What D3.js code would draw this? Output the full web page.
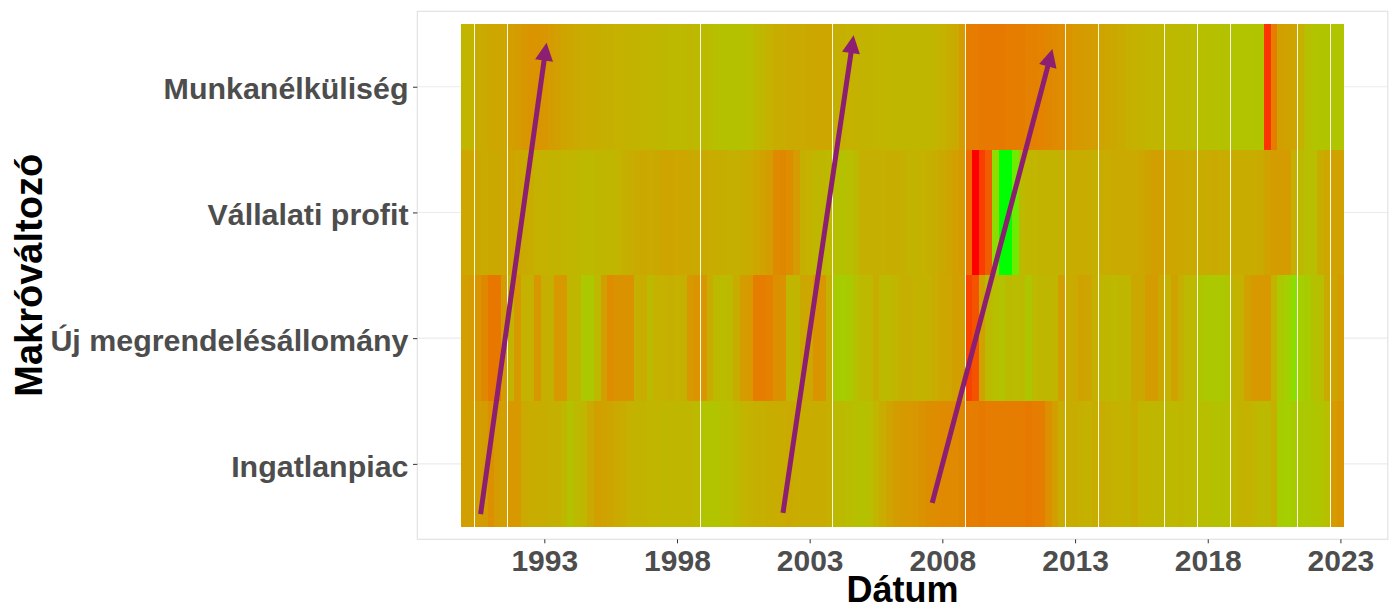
<!DOCTYPE html>
<html>
<head>
<meta charset="utf-8">
<script src="https://cdn.jsdelivr.net/npm/d3@7"></script>
<style>
  body { margin: 0; background: #fff; }
  text { font-family: "Liberation Sans", Arial, sans-serif; font-weight: bold; }
</style>
</head>
<body>
<div id="chart"></div>
<script>
// categories, bottom to top
const categories = ["Ingatlanpiac", "Új megrendelésállomány", "Vállalati profit", "Munkanélküliség"];

// quarterly observations 1990 Q1 .. 2023 Q1 (0 = red, 1 = green)
const firstQuarter = "1990-01-01";
const lastQuarter = "2023-01-01";

const ingatlanpiac = [
  0.44, 0.44, 0.43, 0.42, 0.36, 0.42, 0.44, 0.40, 0.40, 0.49, 0.50, 0.50, 0.51, 0.52, 0.52, 0.56, 0.62,
  0.57, 0.56, 0.49, 0.44, 0.45, 0.46, 0.49, 0.50, 0.53, 0.54, 0.54, 0.55, 0.55, 0.56, 0.56, 0.56, 0.56,
  0.56, 0.57, 0.63, 0.64, 0.63, 0.61, 0.60, 0.58, 0.55, 0.53, 0.52, 0.52, 0.51, 0.50, 0.50, 0.49, 0.50,
  0.50, 0.51, 0.50, 0.50, 0.52, 0.58, 0.58, 0.59, 0.61, 0.62, 0.60, 0.55, 0.50, 0.46, 0.42, 0.41,
  0.40, 0.39, 0.37, 0.35, 0.34, 0.33, 0.33, 0.33, 0.32, 0.27, 0.28, 0.26, 0.27, 0.28, 0.27, 0.28,
  0.27, 0.27, 0.26, 0.27, 0.28, 0.36, 0.43, 0.50, 0.51, 0.50, 0.52, 0.53, 0.51, 0.50, 0.52, 0.53, 0.53,
  0.54, 0.50, 0.55, 0.56, 0.56, 0.56, 0.57, 0.57, 0.56, 0.57, 0.58, 0.60, 0.60, 0.62, 0.62, 0.61,
  0.55, 0.54, 0.53, 0.55, 0.58, 0.58, 0.52, 0.69, 0.70, 0.68, 0.66, 0.66, 0.65, 0.64, 0.60, 0.42, 0.38
];
const ujMegrendeles = [
  0.43, 0.42, 0.38, 0.32, 0.25, 0.25, 0.42, 0.54, 0.40, 0.53, 0.53, 0.39, 0.52, 0.52, 0.40, 0.40, 0.56,
  0.56, 0.66, 0.66, 0.57, 0.44, 0.34, 0.37, 0.37, 0.37, 0.52, 0.50, 0.58, 0.53, 0.53, 0.52, 0.53, 0.52,
  0.40, 0.38, 0.39, 0.50, 0.58, 0.59, 0.57, 0.50, 0.42, 0.40, 0.28, 0.27, 0.29, 0.36, 0.37, 0.56, 0.55,
  0.48, 0.47, 0.38, 0.39, 0.52, 0.68, 0.69, 0.67, 0.61, 0.57, 0.57, 0.50, 0.58, 0.57, 0.55, 0.52,
  0.52, 0.53, 0.54, 0.53, 0.50, 0.47, 0.47, 0.44, 0.44, 0.08, 0.12, 0.45, 0.58, 0.60, 0.63, 0.58,
  0.59, 0.58, 0.65, 0.57, 0.56, 0.56, 0.55, 0.44, 0.50, 0.49, 0.45, 0.46, 0.52, 0.56, 0.56, 0.57, 0.56,
  0.56, 0.48, 0.48, 0.42, 0.42, 0.48, 0.53, 0.45, 0.52, 0.57, 0.57, 0.65, 0.66, 0.66, 0.66, 0.65,
  0.54, 0.53, 0.45, 0.40, 0.40, 0.40, 0.54, 0.66, 0.70, 0.80, 0.70, 0.68, 0.62, 0.60, 0.49, 0.46, 0.42
];
const vallalatiProfit = [
  0.47, 0.47, 0.48, 0.49, 0.48, 0.48, 0.47, 0.46, 0.47, 0.49, 0.50, 0.53, 0.53, 0.54, 0.54, 0.55, 0.55,
  0.56, 0.57, 0.57, 0.56, 0.56, 0.56, 0.55, 0.52, 0.51, 0.49, 0.48, 0.49, 0.48, 0.46, 0.46, 0.47, 0.47,
  0.48, 0.49, 0.49, 0.50, 0.50, 0.51, 0.52, 0.52, 0.51, 0.50, 0.47, 0.45, 0.42, 0.33, 0.32, 0.34, 0.42,
  0.52, 0.53, 0.56, 0.56, 0.57, 0.61, 0.62, 0.60, 0.58, 0.52, 0.52, 0.52, 0.52, 0.51, 0.51, 0.52,
  0.54, 0.54, 0.53, 0.52, 0.51, 0.48, 0.46, 0.43, 0.41, 0.20, 0.00, 0.07, 0.15, 0.78, 1.00, 1.00,
  0.88, 0.57, 0.55, 0.55, 0.54, 0.54, 0.54, 0.53, 0.51, 0.51, 0.50, 0.51, 0.52, 0.50, 0.50, 0.49, 0.49,
  0.49, 0.49, 0.47, 0.45, 0.44, 0.44, 0.47, 0.47, 0.48, 0.49, 0.49, 0.50, 0.50, 0.49, 0.50, 0.50,
  0.50, 0.50, 0.50, 0.50, 0.49, 0.45, 0.42, 0.42, 0.42, 0.52, 0.58, 0.60, 0.60, 0.50, 0.47, 0.45, 0.45
];
const munkanelkuliseg = [
  0.55, 0.55, 0.50, 0.49, 0.47, 0.47, 0.47, 0.43, 0.42, 0.39, 0.38, 0.38, 0.39, 0.42, 0.44, 0.46, 0.47,
  0.49, 0.50, 0.50, 0.51, 0.52, 0.52, 0.53, 0.53, 0.54, 0.54, 0.55, 0.55, 0.56, 0.56, 0.57, 0.57, 0.57,
  0.56, 0.57, 0.58, 0.59, 0.61, 0.62, 0.62, 0.62, 0.61, 0.60, 0.57, 0.56, 0.53, 0.50, 0.50, 0.49, 0.49,
  0.49, 0.48, 0.47, 0.47, 0.47, 0.52, 0.52, 0.53, 0.53, 0.54, 0.54, 0.55, 0.55, 0.56, 0.56, 0.56,
  0.56, 0.56, 0.56, 0.56, 0.55, 0.53, 0.51, 0.49, 0.42, 0.28, 0.27, 0.26, 0.26, 0.26, 0.26, 0.27,
  0.27, 0.28, 0.29, 0.29, 0.30, 0.32, 0.33, 0.34, 0.38, 0.40, 0.41, 0.42, 0.43, 0.46, 0.47, 0.48, 0.49,
  0.52, 0.53, 0.54, 0.55, 0.55, 0.56, 0.57, 0.57, 0.58, 0.58, 0.59, 0.60, 0.61, 0.61, 0.62, 0.62,
  0.63, 0.63, 0.63, 0.63, 0.64, 0.05, 0.28, 0.44, 0.45, 0.46, 0.53, 0.60, 0.63, 0.64, 0.64, 0.64, 0.64
];
const seriesByCategory = [ingatlanpiac, ujMegrendeles, vallalatiProfit, munkanelkuliseg];

// quarters after which a white seam shows between neighbouring tiles
const seamQuarters = [
  "1990-07-01", "1991-10-01", "1999-01-01", "2004-01-01", "2009-01-01", "2012-10-01",
  "2014-01-01", "2016-07-01", "2017-10-01", "2019-01-01", "2021-07-01", "2022-10-01"
];

const tickYears = [1993, 1998, 2003, 2008, 2013, 2018, 2023];

// annotation arrows (date, category position)
const arrows = [
  { from: "1990-08-08", y0: 0.60, to: "1993-02-01", y1: 4.35 },
  { from: "2001-12-30", y0: 0.61, to: "2004-08-28", y1: 4.41 },
  { from: "2007-08-15", y0: 0.69, to: "2012-02-24", y1: 4.30 }
];

const width = 1395, height = 609;
const panel = { left: 417.3, right: 1387.8, top: 11.3, bottom: 539.3 };

const parse = d3.utcParse("%Y-%m-%d");
const quarters = d3.utcMonth.every(3).range(parse(firstQuarter), d3.utcDay.offset(parse(lastQuarter), 1));

// tile width like geom_tile: smallest spacing between dates
const tileW = d3.min(d3.pairs(quarters, (a, b) => b - a));
const x0 = +quarters[0] - tileW / 2;
const x1 = +quarters[quarters.length - 1] + tileW / 2;
const pad = (x1 - x0) * 0.05;

// tile edges: halfway between neighbouring quarters
const edges = [x0];
d3.pairs(quarters, (a, b) => edges.push((+a + +b) / 2));
edges.push(x1);

const x = d3.scaleUtc()
    .domain([new Date(x0 - pad), new Date(x1 + pad)])
    .range([panel.left, panel.right]);

const y = d3.scaleLinear()
    .domain([0.4, categories.length + 0.6])
    .range([panel.bottom, panel.top]);

const color = d3.scaleLinear()
    .domain([0, 1])
    .range(["#ff0000", "#00ff00"])
    .interpolate(d3.interpolateLab);

const cells = [];
seriesByCategory.forEach((vals, i) => {
    vals.forEach((v, k) => cells.push({ k, pos: i + 1, value: v }));
});

const svg = d3.select("#chart").append("svg")
    .attr("width", width)
    .attr("height", height)
    .style("display", "block");

svg.append("rect").attr("width", width).attr("height", height).attr("fill", "#fff");

// grid
svg.append("g")
    .selectAll("line")
    .data(d3.range(1, categories.length + 1))
    .join("line")
    .attr("x1", panel.left).attr("x2", panel.right)
    .attr("y1", d => y(d)).attr("y2", d => y(d))
    .attr("stroke", "#ebebeb")
    .attr("stroke-width", 1.1);

// tiles
svg.append("g")
    .attr("shape-rendering", "crispEdges")
    .selectAll("rect")
    .data(cells)
    .join("rect")
    .attr("x", d => x(new Date(edges[d.k])))
    .attr("width", d => x(new Date(edges[d.k + 1])) - x(new Date(edges[d.k])))
    .attr("y", d => y(d.pos + 0.5))
    .attr("height", d => y(d.pos - 0.5) - y(d.pos + 0.5))
    .attr("fill", d => color(d.value));

// seams between tiles
svg.append("g")
    .attr("shape-rendering", "crispEdges")
    .selectAll("line")
    .data(seamQuarters)
    .join("line")
    .attr("x1", d => x(new Date(edges[d3.bisectLeft(quarters, parse(d))])))
    .attr("x2", d => x(new Date(edges[d3.bisectLeft(quarters, parse(d))])))
    .attr("y1", y(categories.length + 0.5))
    .attr("y2", y(0.5))
    .attr("stroke", "#ffffff")
    .attr("stroke-opacity", 0.92)
    .attr("stroke-width", 1);

// arrows
const arrowColor = "#8c1f72";
const ag = svg.append("g");
arrows.forEach(a => {
    const sx = x(parse(a.from)), sy = y(a.y0);
    const ex = x(parse(a.to)), ey = y(a.y1);
    const len = Math.hypot(ex - sx, ey - sy);
    const ux = (ex - sx) / len, uy = (ey - sy) / len;
    const headL = 18, headW = 9;
    const bx = ex - ux * headL, by = ey - uy * headL;
    ag.append("line")
        .attr("x1", sx).attr("y1", sy)
        .attr("x2", ex - ux * (headL - 2)).attr("y2", ey - uy * (headL - 2))
        .attr("stroke", arrowColor)
        .attr("stroke-width", 5);
    ag.append("path")
        .attr("d", `M${ex},${ey}L${bx - uy * headW},${by + ux * headW}L${bx + uy * headW},${by - ux * headW}Z`)
        .attr("fill", arrowColor);
});

// panel border
svg.append("rect")
    .attr("x", panel.left).attr("y", panel.top)
    .attr("width", panel.right - panel.left)
    .attr("height", panel.bottom - panel.top)
    .attr("fill", "none")
    .attr("stroke", "#e0e0e0")
    .attr("stroke-width", 1.1);

// x axis
const xAxis = svg.append("g")
    .attr("transform", `translate(0,${panel.bottom})`)
    .call(d3.axisBottom(x)
        .tickValues(tickYears.map(yr => new Date(Date.UTC(yr, 0, 1))))
        .tickFormat(d3.utcFormat("%Y"))
        .tickSize(4)
        .tickPadding(6));
xAxis.select(".domain").remove();
xAxis.selectAll(".tick line").attr("stroke", "#333333");
xAxis.selectAll("text")
    .style("font-size", "30px")
    .attr("fill", "#4d4d4d");

// y axis
const yAxis = svg.append("g")
    .attr("transform", `translate(${panel.left},0)`)
    .call(d3.axisLeft(y)
        .tickValues(d3.range(1, categories.length + 1))
        .tickFormat(i => categories[i - 1])
        .tickSize(4.3)
        .tickPadding(4.5));
yAxis.select(".domain").remove();
yAxis.selectAll(".tick line").attr("stroke", "#333333");
yAxis.selectAll("text")
    .attr("dy", "0.4em")
    .style("font-size", "30.4px")
    .attr("fill", "#4d4d4d");

// axis titles
svg.append("text")
    .attr("x", (panel.left + panel.right) / 2)
    .attr("y", 602)
    .attr("text-anchor", "middle")
    .style("font-size", "36px")
    .attr("fill", "#000")
    .text("Dátum");

svg.append("text")
    .attr("transform", `translate(42,${(panel.top + panel.bottom) / 2}) rotate(-90)`)
    .attr("text-anchor", "middle")
    .style("font-size", "38px")
    .attr("fill", "#000")
    .text("Makróváltozó");
</script>
</body>
</html>
